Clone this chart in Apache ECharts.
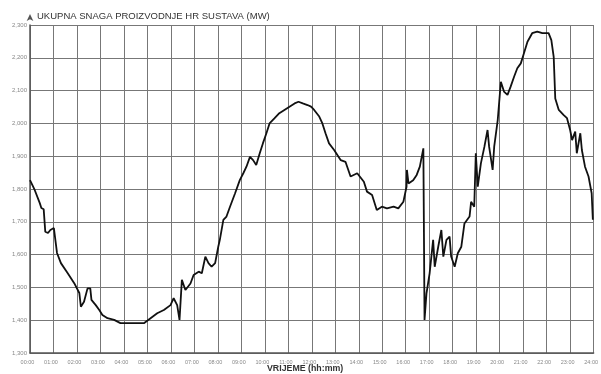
<!DOCTYPE html>
<html>
<head>
<meta charset="utf-8">
<script src="https://cdn.jsdelivr.net/npm/echarts@6/dist/echarts.min.js"></script>
<style>
  html, body { margin: 0; padding: 0; background: #ffffff; }
  #chart { width: 601px; height: 374px; }
</style>
</head>
<body>
<div id="chart"></div>
<script>
// Daily total generation of the HR power system, MW, sampled through the day
const times = [
  '00:00','00:12','00:25','00:29','00:35','00:39','00:46','00:52','01:01','01:09',
  '01:19','01:36','01:53','02:06','02:10','02:18','02:27','02:34','02:37','02:48',
  '02:57','03:05','03:18','03:35','03:51','04:08','04:26','04:51','05:08','05:25',
  '05:42','05:59','06:07','06:16','06:22','06:28','06:37','06:50','06:58','07:11',
  '07:19','07:28','07:36','07:44','07:53','08:01','08:05','08:14','08:22','08:31',
  '08:44','08:56','09:05','09:13','09:22','09:30','09:38','09:47','09:55','10:04',
  '10:12','10:25','10:37','10:50','11:03','11:16','11:26','11:37','11:49','11:58',
  '12:06','12:19','12:27','12:35','12:44','12:57','13:14','13:26','13:39','13:56',
  '14:13','14:21','14:34','14:46','14:59','15:12','15:29','15:41','15:54','16:02',
  '16:03','16:07','16:19','16:28','16:36','16:45','16:48','16:53','17:01','17:10',
  '17:14','17:23','17:31','17:36','17:44','17:52','17:56','18:05','18:13','18:22',
  '18:30','18:43','18:47','18:55','18:59','19:04','19:12','19:21','19:29','19:33',
  '19:42','19:46','19:55','20:03','20:11','20:20','20:28','20:37','20:45','20:54',
  '21:02','21:11','21:23','21:36','21:49','22:05','22:12','22:18','22:22','22:31',
  '22:43','22:52','23:00','23:05','23:13','23:17','23:26','23:30','23:38','23:47',
  '23:55','23:58'
];
const power = [
  1827,1797,1757,1742,1738,1670,1666,1675,1681,1605,
  1574,1544,1513,1483,1441,1456,1497,1497,1462,1446,
  1431,1416,1406,1401,1391,1391,1391,1391,1406,1421,
  1431,1446,1467,1446,1401,1523,1492,1512,1538,1548,
  1543,1594,1574,1563,1574,1624,1645,1706,1716,1746,
  1787,1827,1848,1868,1898,1888,1873,1909,1939,1970,
  2000,2016,2031,2041,2051,2061,2066,2061,2056,2051,
  2041,2021,2000,1970,1939,1919,1888,1883,1838,1848,
  1822,1792,1782,1736,1746,1741,1746,1741,1761,1807,
  1858,1817,1827,1843,1868,1924,1401,1482,1543,1645,
  1563,1624,1675,1594,1645,1655,1594,1563,1604,1624,
  1695,1716,1761,1746,1909,1807,1878,1929,1980,1929,
  1858,1929,2010,2127,2097,2087,2112,2143,2168,2183,
  2214,2249,2275,2280,2275,2275,2254,2203,2076,2041,
  2026,2016,1980,1949,1975,1909,1970,1919,1868,1838,
  1787,1706
];
const yMin = 1300, yMax = 2300, yStep = 100;
const hourTicks = 24;

const toHours = t => { const [h, m] = t.split(':').map(Number); return h + m / 60; };
const seriesData = times.map((t, i) => [toHours(t), power[i]]);
const pad = n => (n < 10 ? '0' : '') + n;

const chart = echarts.init(document.getElementById('chart'), null, { renderer: 'canvas' });
chart.setOption({
  backgroundColor: '#ffffff',
  animation: false,
  title: [
    {
      text: 'UKUPNA SNAGA PROIZVODNJE HR SUSTAVA (MW)',
      left: 37, top: 11, padding: 0,
      textStyle: { fontFamily: 'Liberation Sans', fontSize: 9.5, fontWeight: 'normal', color: '#333' }
    },
    {
      text: 'VRIJEME (hh:mm)',
      left: 267, top: 364, padding: 0,
      textStyle: { fontFamily: 'Liberation Sans', fontSize: 8.8, fontWeight: 'bold', color: '#333' }
    }
  ],
  grid: { left: 30, right: 3, top: 25, bottom: 21, containLabel: false },
  xAxis: {
    type: 'value', min: 0, max: hourTicks, interval: 1,
    axisLine: { show: true, lineStyle: { color: '#555', width: 1.5 } },
    axisTick: { show: false },
    splitLine: { show: true, lineStyle: { color: '#777', width: 1 } },
    axisLabel: {
      fontFamily: 'Liberation Sans', fontSize: 5.5, color: '#888', margin: 6,
      padding: [0, 5, 0, 0],
      formatter: v => pad(v) + ':00'
    }
  },
  yAxis: {
    type: 'value', min: yMin, max: yMax, interval: yStep,
    axisLine: { show: true, lineStyle: { color: '#555', width: 1.5 },
      symbol: ['none', 'arrow'], symbolSize: [5, 7], symbolOffset: [0, 11] },
    axisTick: { show: false },
    splitLine: { show: true, lineStyle: { color: '#777', width: 1 } },
    axisLabel: {
      fontFamily: 'Liberation Sans', fontSize: 6, color: '#888', margin: 3,
      formatter: v => v.toLocaleString('en-US')
    }
  },
  series: [{
    type: 'line',
    data: seriesData,
    showSymbol: false,
    lineStyle: { color: '#111', width: 1.8 },
    z: 5
  }]
});
</script>
</body>
</html>
